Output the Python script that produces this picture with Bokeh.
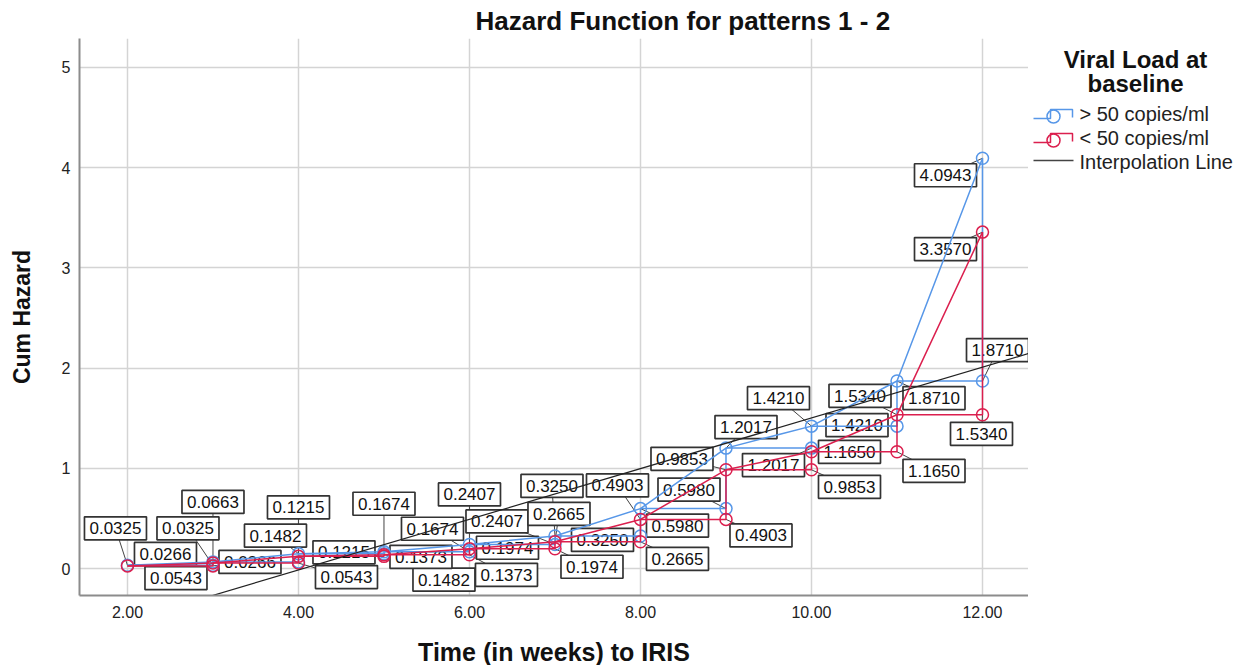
from bokeh.plotting import figure
from bokeh.layouts import row
from bokeh.models import Range1d, FixedTicker, PrintfTickFormatter, ColumnDataSource
from bokeh.core.properties import value
from bokeh.embed import file_html
from bokeh.resources import INLINE

# ---------------- data ----------------
times = [2, 3, 4, 5, 6, 7, 8, 9, 10, 11, 12]
cum_hazard_above50 = [0.0325, 0.0663, 0.1482, 0.1674, 0.2407, 0.3250, 0.5980, 1.2017, 1.4210, 1.8710, 4.0943]
cum_hazard_below50 = [0.0266, 0.0543, 0.1215, 0.1373, 0.1974, 0.2665, 0.4903, 0.9853, 1.1650, 1.5340, 3.3570]
series_names = ["> 50 copies/ml", "< 50 copies/ml"]
interp_name = "Interpolation Line"
legend_title = ["Viral Load at", "baseline"]
interp_slope = 0.253
interp_intercept = -1.027
x_ticks = [2, 4, 6, 8, 10, 12]
y_ticks = [0, 1, 2, 3, 4, 5]

# label box offsets from their point, in pixels (right, up)
above_point_offsets = [(-12, 37), (0, 60), (-23, 18), (0, 48), (0, 50), (-3, 50), (37, -17), (20, 21), (-33, 28), (37, -17), (-37, -17)]
above_step_offsets = [(-25, 37), None, (60, -26), (-37, 23), (-58, 23), (-38, -4), (-37, 19), (-38, -17), (-40, 1), (15, 31)]
below_point_offsets = [(38, 12), (-37, -15), (0, 49), (37, -2), (38, 1), (4, 28), (-23, 34), (-44, 11), (38, 0), (-37, 19), (-37, -17)]
below_step_offsets = [(37, 4), (48, -14), (-40, 4), (37, -20), (37, -18), (37, -17), (35, -16), (38, -17), (37, -19), (-1, -19)]

# ---------------- layout ----------------
X0, X1 = 1.439, 12.538
Y0, Y1 = -0.269, 5.289
FW, FH = 949, 557
ML, MT, MB = 79, 38, 68
LEG_W = 218
SX = FW / (X1 - X0)
SY = FH / (Y1 - Y0)

BLUE = "#5797E8"
RED = "#DB1F4E"
FONT = "Liberation Sans"

p = figure(frame_width=FW, frame_height=FH,
           min_border_left=ML, min_border_right=0, min_border_top=MT, min_border_bottom=MB,
           x_range=Range1d(X0, X1), y_range=Range1d(Y0, Y1),
           output_backend="svg", toolbar_location=None,
           background_fill_color="white", border_fill_color="white")
p.outline_line_color = None

p.title.text = "Hazard Function for patterns 1 - 2"
p.title.align = "left"
p.title.offset = 396
p.title.standoff = 6
p.title.text_font = FONT
p.title.text_font_size = "26px"
p.title.text_font_style = "bold"
p.title.text_color = "#111111"

p.xaxis.ticker = FixedTicker(ticks=x_ticks)
p.yaxis.ticker = FixedTicker(ticks=y_ticks)
p.xaxis.formatter = PrintfTickFormatter(format="%.2f")
p.yaxis.formatter = PrintfTickFormatter(format="%d")
p.xgrid.ticker = FixedTicker(ticks=x_ticks)
p.ygrid.ticker = FixedTicker(ticks=y_ticks)
p.grid.grid_line_color = "#d4d4d4"
p.grid.grid_line_width = 1.5
for ax in (p.xaxis[0], p.yaxis[0]):
    ax.axis_line_color = "#8c8c8c"
    ax.axis_line_width = 2
    ax.major_tick_line_color = None
    ax.minor_tick_line_color = None
    ax.major_tick_out = 0
    ax.major_tick_in = 0
    ax.minor_tick_out = 0
    ax.minor_tick_in = 0
    ax.major_label_text_font = FONT
    ax.major_label_text_font_size = "16px"
    ax.major_label_text_color = "#222222"
    ax.axis_label_text_font = FONT
    ax.axis_label_text_font_style = "bold"
    ax.axis_label_text_color = "#111111"
p.xaxis.axis_label = "Time (in weeks) to IRIS"
p.xaxis.axis_label_text_font_size = "25px"
p.xaxis.major_label_standoff = 10
p.xaxis.axis_label_standoff = 17
p.yaxis.axis_label = "Cum Hazard"
p.yaxis.axis_label_text_font_size = "23px"
p.yaxis.major_label_standoff = 9
p.yaxis.axis_label_standoff = 24

# ---------------- value labels ----------------
def label_rows(t, h, pt_off, st_off):
    rows = []
    for i in range(len(t)):
        rows.append((t[i], h[i], pt_off[i]))
    for i in range(1, len(t)):
        if st_off[i - 1] is not None:
            rows.append((t[i], h[i - 1], st_off[i - 1]))
    return rows

rows = (label_rows(times, cum_hazard_above50, above_point_offsets, above_step_offsets)
        + label_rows(times, cum_hazard_below50, below_point_offsets, below_step_offsets))
lab = dict(ax=[], ay=[], cx=[], cy=[], text=[])
for (tx, hv, (dx, dy)) in rows:
    lab["ax"].append(tx)
    lab["ay"].append(hv)
    lab["cx"].append(tx + dx / SX)
    lab["cy"].append(hv + dy / SY)
    lab["text"].append("%.4f" % hv)
lsrc = ColumnDataSource(lab)

p.segment(x0="ax", y0="ay", x1="cx", y1="cy", source=lsrc, line_color="#444444", line_width=1)
p.rect(x="cx", y="cy", width=62, height=23, width_units="screen", height_units="screen",
       source=lsrc, fill_color="white", line_color="#333333", line_width=1.7)
p.text(x="cx", y="cy", text="text", source=lsrc, text_align="center", text_baseline="middle",
       text_font=value(FONT), text_font_size="17px", text_color="#111111")

# ---------------- series ----------------
for h, color in [(cum_hazard_above50, BLUE), (cum_hazard_below50, RED)]:
    p.step(times, h, mode="after", line_color=color, line_width=1.5)
    p.line(times, h, line_color=color, line_width=1.5)
    p.scatter(times + times[1:], h + h[:-1], marker="circle", size=12,
              fill_color=None, line_color=color, line_width=1.5)

fx = [X0, X1]
fy = [interp_slope * x + interp_intercept for x in fx]
p.line(fx, fy, line_color="#222222", line_width=1.2)

# ---------------- legend panel (same border structure, page-pixel coordinates) ----------------
lg = figure(frame_width=LEG_W, frame_height=FH,
            min_border_left=0, min_border_right=0, min_border_top=MT, min_border_bottom=MB,
            x_range=Range1d(0, LEG_W), y_range=Range1d(MT + FH, MT),
            output_backend="svg", toolbar_location=None,
            background_fill_color="white", border_fill_color="white")
lg.outline_line_color = None
lg.axis.visible = False
lg.grid.visible = False

title_cx = 107
title_y = [59, 83]
lg.text(x=[title_cx] * 2, y=title_y, text=legend_title, text_align="center", text_baseline="middle",
        text_font=value(FONT), text_font_size="24px", text_font_style="bold", text_color="#111111")

item_y = [113, 137, 161]
for yy, color in zip(item_y[:2], [BLUE, RED]):
    lg.line([5, 22, 22, 44, 44], [yy + 5, yy + 5, yy - 4, yy - 4, yy + 4], line_color=color, line_width=1.5)
    lg.scatter([25], [yy + 3], marker="circle", size=13, fill_color=None, line_color=color, line_width=1.5)
lg.line([5, 45], [item_y[2] - 1, item_y[2] - 1], line_color="#444444", line_width=1.5)
lg.text(x=[51] * 3, y=item_y, text=series_names + [interp_name], text_align="left", text_baseline="middle",
        text_font=value(FONT), text_font_size="20px", text_color="#222222")

layout = row(p, lg)
open("out.html", "w").write(file_html(layout, INLINE))
